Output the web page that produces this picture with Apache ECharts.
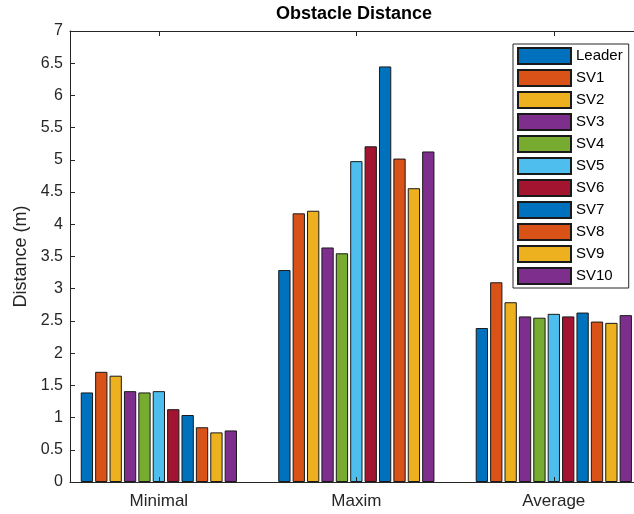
<!DOCTYPE html>
<html>
<head>
<meta charset="utf-8">
<script src="https://cdn.jsdelivr.net/npm/echarts@6/dist/echarts.min.js"></script>
<style>
  html, body { margin: 0; padding: 0; background: #ffffff; }
  #chart { width: 634px; height: 514px; }
</style>
</head>
<body>
<div id="chart"></div>
<script>
// Groups along the x axis and the vehicles drawn in each group
const categories = ['Minimal', 'Maxim', 'Average'];
const vehicles = ['Leader', 'SV1', 'SV2', 'SV3', 'SV4', 'SV5', 'SV6', 'SV7', 'SV8', 'SV9', 'SV10'];

// Obstacle distance (m) per vehicle, one array per group
const minimalDist = [1.39, 1.71, 1.65, 1.41, 1.39, 1.41, 1.13, 1.04, 0.85, 0.77, 0.80];
const maximDist   = [3.29, 4.17, 4.21, 3.64, 3.55, 4.98, 5.21, 6.45, 5.02, 4.56, 5.13];
const averageDist = [2.39, 3.10, 2.79, 2.57, 2.55, 2.61, 2.57, 2.63, 2.49, 2.47, 2.59];

// Y axis ticks
const yMin = 0, yMax = 7, yStep = 0.5;

// MATLAB-style default colour order
const palette = ['#0072BD', '#D95319', '#EDB120', '#7E2F8E', '#77AC30', '#4DBEEE', '#A2142F'];

const groupValues = [minimalDist, maximDist, averageDist];
const groupPositions = categories.map((_, k) => k + 1);

// Visible x range (the axes box runs off the right edge of the figure)
const xLo = 0.55, xHi = 3.406;

const font = "'Liberation Sans', Arial, Helvetica, sans-serif";
const ink = '#262626';

const series = vehicles.map((name, i) => ({
  name: name,
  type: 'bar',
  xAxisIndex: 0,
  yAxisIndex: 0,
  barWidth: 12.3,
  barGap: '17%',
  itemStyle: { color: palette[i % palette.length], borderColor: '#1a1a1a', borderWidth: 1 },
  emphasis: { disabled: true },
  data: groupValues.map((vals, k) => [groupPositions[k], vals[i]])
}));

const chart = echarts.init(document.getElementById('chart'), null, { renderer: 'canvas' });

chart.setOption({
  animation: false,
  backgroundColor: '#ffffff',
  textStyle: { fontFamily: font },
  title: {
    text: 'Obstacle Distance',
    left: 276,
    top: 5,
    padding: 0,
    textStyle: { fontFamily: font, fontSize: 18, fontWeight: 'bold', color: '#000000' }
  },
  grid: { left: 70, top: 31, right: 0, height: 451, containLabel: false },
  legend: {
    orient: 'vertical',
    left: 513,
    top: 44,
    padding: [3, 6, 3, 4],
    itemWidth: 53,
    itemHeight: 16,
    itemGap: 4,
    icon: 'rect',
    borderColor: ink,
    borderWidth: 1,
    backgroundColor: '#ffffff',
    selectedMode: false,
    data: vehicles,
    textStyle: { fontFamily: font, fontSize: 15, color: '#000000' }
  },
  xAxis: [
    {
      type: 'value',
      position: 'bottom',
      min: xLo,
      max: xHi,
      z: 5,
      axisLine: { show: true, onZero: false, lineStyle: { color: ink, width: 1 } },
      axisTick: { show: true, inside: true, length: 5, customValues: groupPositions, lineStyle: { color: ink } },
      axisLabel: {
        customValues: groupPositions,
        formatter: v => categories[Math.round(v) - 1],
        fontFamily: font, fontSize: 17, color: ink, margin: 11
      },
      splitLine: { show: false }
    },
    {
      type: 'value',
      position: 'top',
      min: xLo,
      max: xHi,
      z: 5,
      axisLine: { show: true, onZero: false, lineStyle: { color: ink, width: 1 } },
      axisTick: { show: true, inside: true, length: 5, customValues: groupPositions, lineStyle: { color: ink } },
      axisLabel: { show: false },
      splitLine: { show: false }
    }
  ],
  yAxis: {
    type: 'value',
    min: yMin,
    max: yMax,
    interval: yStep,
    z: 5,
    name: 'Distance (m)',
    nameLocation: 'middle',
    nameGap: 38,
    nameRotate: 90,
    nameTextStyle: { fontFamily: font, fontSize: 18, color: ink },
    axisLine: { show: true, lineStyle: { color: ink, width: 1 } },
    axisTick: { show: true, inside: true, length: 5, lineStyle: { color: ink } },
    axisLabel: { fontFamily: font, fontSize: 16, color: ink, margin: 7 },
    splitLine: { show: false }
  },
  series: series
});
</script>
</body>
</html>
